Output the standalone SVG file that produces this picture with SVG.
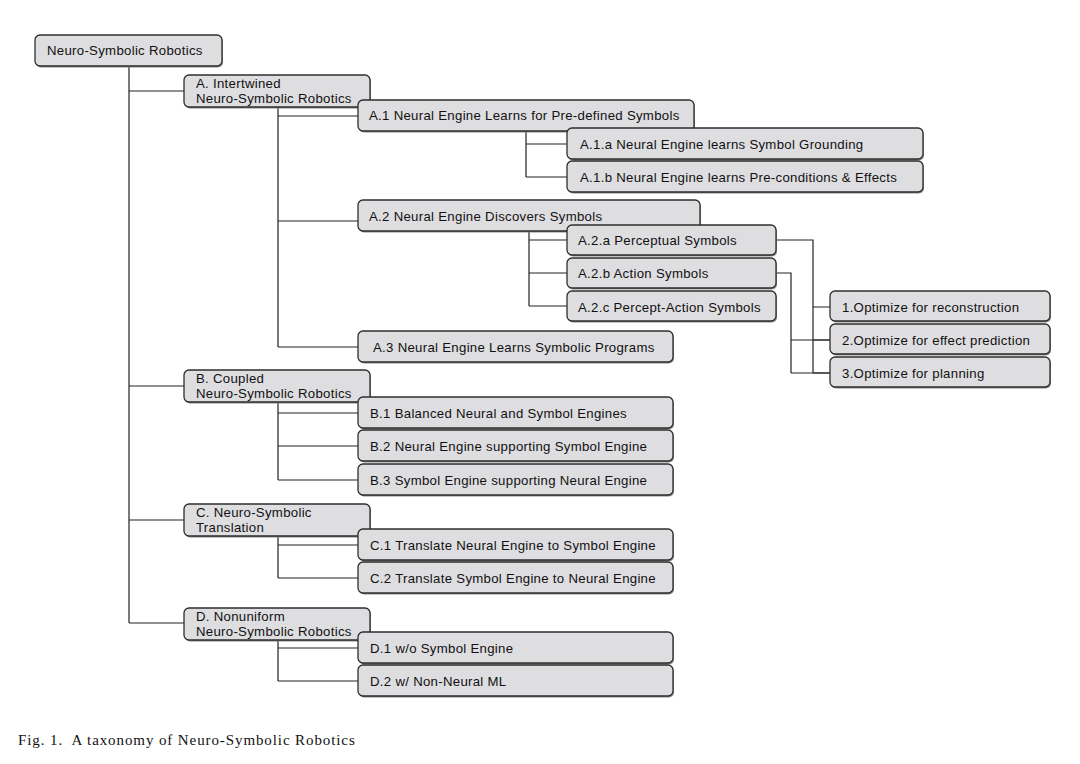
<svg xmlns="http://www.w3.org/2000/svg" width="1080" height="764" viewBox="0 0 1080 764">
<style>
.bx{fill:#dedde0;stroke:#2e2e2e;stroke-width:1.3}
.sh{fill:#8a8a8a;stroke:none}
.t{font-family:"Liberation Sans",Arial,sans-serif;font-size:13.2px;letter-spacing:0.3px;fill:#111}
.c{fill:none;stroke:#222;stroke-width:1.2}
.cap{font-family:"Liberation Serif","Times New Roman",serif;font-size:15px;letter-spacing:0.9px;fill:#111;white-space:pre}
</style>
<rect width="1080" height="764" fill="#fff"/>
<g id="connectors">
<path class="c" d="M129 66V623M129 91H184M129 386H184M129 520H184M129 623H184"/>
<path class="c" d="M278 107V347M278 116H358M278 221H358M278 347H358"/>
<path class="c" d="M526 131V177M526 144H567M526 177H567"/>
<path class="c" d="M529 231V306M529 240H567M529 273H567M529 306H567"/>
<path class="c" d="M776 240H813V373M813 307H830M813 340H830M813 373H830"/>
<path class="c" d="M776 273H791V373M791 340H830M791 373H830"/>
<path class="c" d="M278 402V480M278 413H358M278 446H358M278 480H358"/>
<path class="c" d="M278 536V578M278 545H358M278 578H358"/>
<path class="c" d="M278 640V681M278 648H358M278 681H358"/>
</g>
<g id="n-root"><rect class="sh" x="36" y="36.5" width="187" height="31" rx="5"/><rect class="bx" x="35" y="35" width="187" height="31" rx="5"/><text class="t" x="47" y="55">Neuro-Symbolic Robotics</text></g>
<g id="n-A"><rect class="sh" x="185" y="76.5" width="186" height="32" rx="5"/><rect class="bx" x="184" y="75" width="186" height="32" rx="5"/><text class="t" x="196" y="88">A. Intertwined</text><text class="t" x="196" y="103">Neuro-Symbolic Robotics</text></g>
<g id="n-A1"><rect class="sh" x="359" y="101.5" width="336" height="31" rx="5"/><rect class="bx" x="358" y="100" width="336" height="31" rx="5"/><text class="t" x="369" y="120">A.1 Neural Engine Learns for Pre-defined Symbols</text></g>
<g id="n-A1a"><rect class="sh" x="568" y="129.5" width="356" height="31" rx="5"/><rect class="bx" x="567" y="128" width="356" height="31" rx="5"/><text class="t" x="580" y="149">A.1.a Neural Engine learns Symbol Grounding</text></g>
<g id="n-A1b"><rect class="sh" x="568" y="162.5" width="356" height="31" rx="5"/><rect class="bx" x="567" y="161" width="356" height="31" rx="5"/><text class="t" x="580" y="182">A.1.b Neural Engine learns Pre-conditions &amp; Effects</text></g>
<g id="n-A2"><rect class="sh" x="359" y="201.5" width="342" height="31" rx="5"/><rect class="bx" x="358" y="200" width="342" height="31" rx="5"/><text class="t" x="369" y="221">A.2 Neural Engine Discovers Symbols</text></g>
<g id="n-A2a"><rect class="sh" x="568" y="226.5" width="209" height="30" rx="5"/><rect class="bx" x="567" y="225" width="209" height="30" rx="5"/><text class="t" x="578" y="245">A.2.a Perceptual Symbols</text></g>
<g id="n-A2b"><rect class="sh" x="568" y="259.5" width="209" height="30" rx="5"/><rect class="bx" x="567" y="258" width="209" height="30" rx="5"/><text class="t" x="578" y="278">A.2.b Action Symbols</text></g>
<g id="n-A2c"><rect class="sh" x="568" y="292.5" width="209" height="30" rx="5"/><rect class="bx" x="567" y="291" width="209" height="30" rx="5"/><text class="t" x="578" y="312">A.2.c Percept-Action Symbols</text></g>
<g id="n-A3"><rect class="sh" x="359" y="332.5" width="315" height="31" rx="5"/><rect class="bx" x="358" y="331" width="315" height="31" rx="5"/><text class="t" x="373" y="352">A.3 Neural Engine Learns Symbolic Programs</text></g>
<g id="n-O1"><rect class="sh" x="831" y="292.5" width="220" height="30" rx="5"/><rect class="bx" x="830" y="291" width="220" height="30" rx="5"/><text class="t" x="842" y="312">1.Optimize for reconstruction</text></g>
<g id="n-O2"><rect class="sh" x="831" y="325.5" width="220" height="30" rx="5"/><rect class="bx" x="830" y="324" width="220" height="30" rx="5"/><text class="t" x="842" y="345">2.Optimize for effect prediction</text></g>
<g id="n-O3"><rect class="sh" x="831" y="358.5" width="220" height="30" rx="5"/><rect class="bx" x="830" y="357" width="220" height="30" rx="5"/><text class="t" x="842" y="378">3.Optimize for planning</text></g>
<g id="n-B"><rect class="sh" x="185" y="371.5" width="186" height="32" rx="5"/><rect class="bx" x="184" y="370" width="186" height="32" rx="5"/><text class="t" x="196" y="383">B. Coupled</text><text class="t" x="196" y="398">Neuro-Symbolic Robotics</text></g>
<g id="n-B1"><rect class="sh" x="359" y="398.5" width="315" height="31" rx="5"/><rect class="bx" x="358" y="397" width="315" height="31" rx="5"/><text class="t" x="370" y="418">B.1 Balanced Neural and Symbol Engines</text></g>
<g id="n-B2"><rect class="sh" x="359" y="431.5" width="315" height="31" rx="5"/><rect class="bx" x="358" y="430" width="315" height="31" rx="5"/><text class="t" x="370" y="451">B.2 Neural Engine supporting Symbol Engine</text></g>
<g id="n-B3"><rect class="sh" x="359" y="465.5" width="315" height="31" rx="5"/><rect class="bx" x="358" y="464" width="315" height="31" rx="5"/><text class="t" x="370" y="485">B.3 Symbol Engine supporting Neural Engine</text></g>
<g id="n-C"><rect class="sh" x="185" y="505.5" width="186" height="32" rx="5"/><rect class="bx" x="184" y="504" width="186" height="32" rx="5"/><text class="t" x="196" y="517">C. Neuro-Symbolic</text><text class="t" x="196" y="532">Translation</text></g>
<g id="n-C1"><rect class="sh" x="359" y="530.5" width="315" height="31" rx="5"/><rect class="bx" x="358" y="529" width="315" height="31" rx="5"/><text class="t" x="370" y="550">C.1 Translate Neural Engine to Symbol Engine</text></g>
<g id="n-C2"><rect class="sh" x="359" y="563.5" width="315" height="31" rx="5"/><rect class="bx" x="358" y="562" width="315" height="31" rx="5"/><text class="t" x="370" y="583">C.2 Translate Symbol Engine to Neural Engine</text></g>
<g id="n-D"><rect class="sh" x="185" y="609.5" width="186" height="32" rx="5"/><rect class="bx" x="184" y="608" width="186" height="32" rx="5"/><text class="t" x="196" y="621">D. Nonuniform</text><text class="t" x="196" y="636">Neuro-Symbolic Robotics</text></g>
<g id="n-D1"><rect class="sh" x="359" y="633.5" width="315" height="31" rx="5"/><rect class="bx" x="358" y="632" width="315" height="31" rx="5"/><text class="t" x="370" y="653">D.1 w/o Symbol Engine</text></g>
<g id="n-D2"><rect class="sh" x="359" y="666.5" width="315" height="31" rx="5"/><rect class="bx" x="358" y="665" width="315" height="31" rx="5"/><text class="t" x="370" y="686">D.2 w/ Non-Neural ML</text></g>
<text class="cap" x="18" y="745" xml:space="preserve">Fig. 1.  A taxonomy of Neuro-Symbolic Robotics</text>
</svg>
